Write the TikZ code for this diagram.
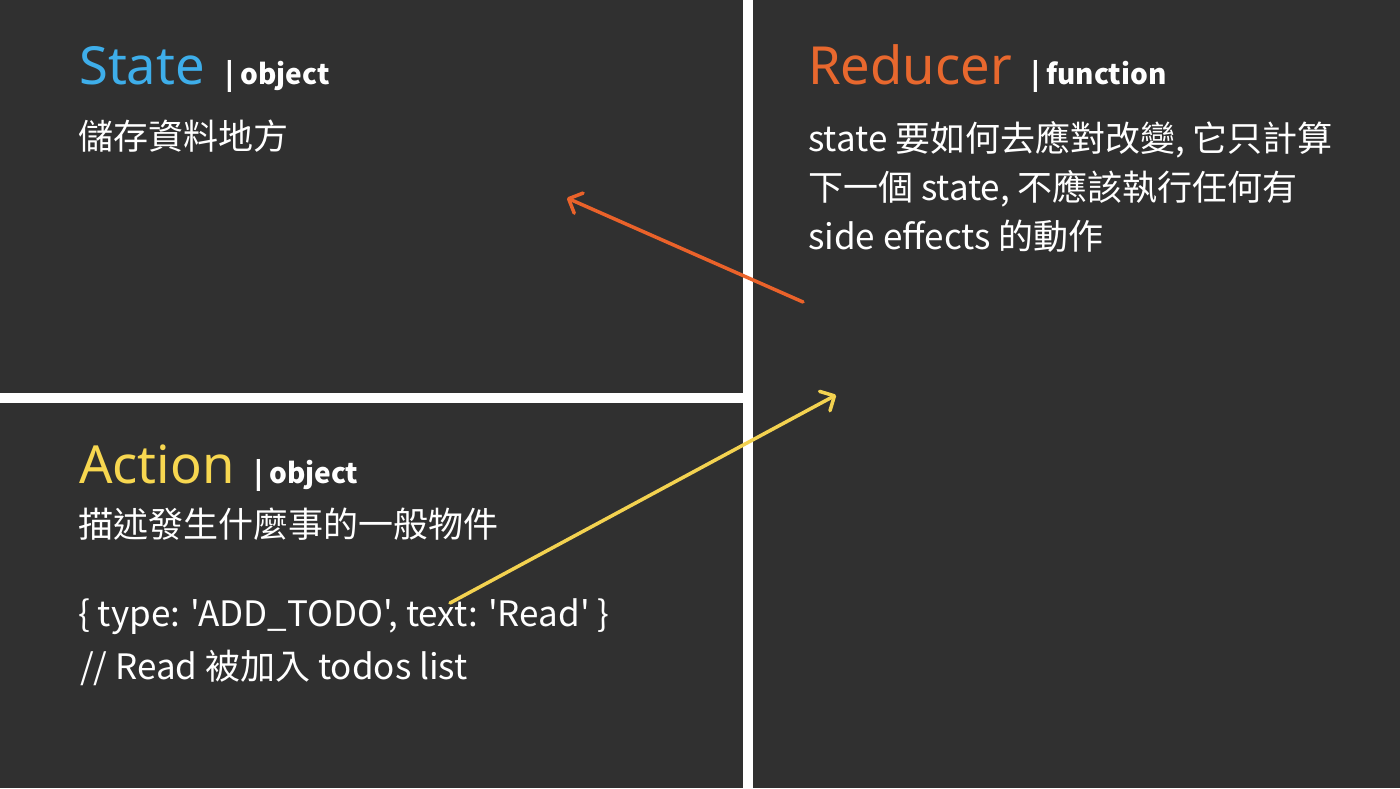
\documentclass[tikz,border=0pt]{standalone}
\usepackage{fontspec}
\setmainfont{Noto Sans}
\newfontfamily\cjk[Ligatures=TeXOff]{Noto Sans CJK TC}
\usetikzlibrary{positioning,arrows.meta}
\definecolor{panelbg}{HTML}{303030}
\definecolor{stateblue}{HTML}{3EAEEA}
\definecolor{reducerorange}{HTML}{E8682E}
\definecolor{actionyellow}{HTML}{F7D750}
\definecolor{arroworange}{HTML}{EA622A}
\definecolor{arrowyellow}{HTML}{F3D250}

\begin{document}
\begin{tikzpicture}[x=1pt,y=-1pt,
titletext/.style={font=\fontsize{52.5}{52.5}\selectfont, inner sep=0pt, anchor=base west},
tagtext/.style={font=\cjk\bfseries\fontsize{28}{28}\selectfont, text=white, inner sep=0pt},
bodytext/.style={font=\cjk\fontsize{35}{49}\selectfont, text=white, inner sep=0pt, anchor=base west},
flow/.style={line width=3.5pt, line cap=round, -{Straight Barb[length=11pt,width=22pt,line cap=round,line join=round]}}
]
\useasboundingbox (0,0) rectangle (1400,788);
\fill[panelbg] (0,0) rectangle (1400,788);
% dividers
\fill[white] (743,0) rectangle (753,788);
\fill[white] (0,393) rectangle (743,403);

% state panel
\node[titletext, text=stateblue] (state) at (79,84) {State};
\node[tagtext] (statetag) [right=20pt of state.base east, anchor=base west] {| object};
\node[bodytext] (statebody) at (78,149) {儲存資料地方};

% reducer panel
\node[titletext, text=reducerorange] (reducer) at (808,84) {Reducer};
\node[tagtext] (reducertag) [right=19pt of reducer.base east, anchor=base west] {| function};
\node[bodytext] (reducer1) at (808,151) {state 要如何去應對改變, 它只計算};
\node[bodytext] (reducer2) at (808,200) {下一個 state, 不應該執行任何有};
\node[bodytext] (reducer3) at (808,249) {side effects 的動作};

% action panel
\node[titletext, text=actionyellow] (action) at (79,483) {Action};
\node[tagtext] (actiontag) [right=19pt of action.base east, anchor=base west] {| object};
\node[bodytext] (actionbody) at (78,537) {描述發生什麼事的一般物件};
\node[bodytext] (actioncode) at (78,626) {\{ type: 'ADD\_TODO', text: 'Read' \}};
\node[bodytext] (actionnote) at (80,679) {// Read 被加入 todos list};

% flows
\coordinate (fromreducer) at (803,302);
\coordinate (tostate) at (567,198);
\coordinate (fromaction) at (450,603);
\coordinate (toreducer) at (836,395);
\draw[flow, arroworange] (fromreducer) -- (tostate);
\draw[flow, arrowyellow] (fromaction) -- (toreducer);
\end{tikzpicture}
\end{document}
